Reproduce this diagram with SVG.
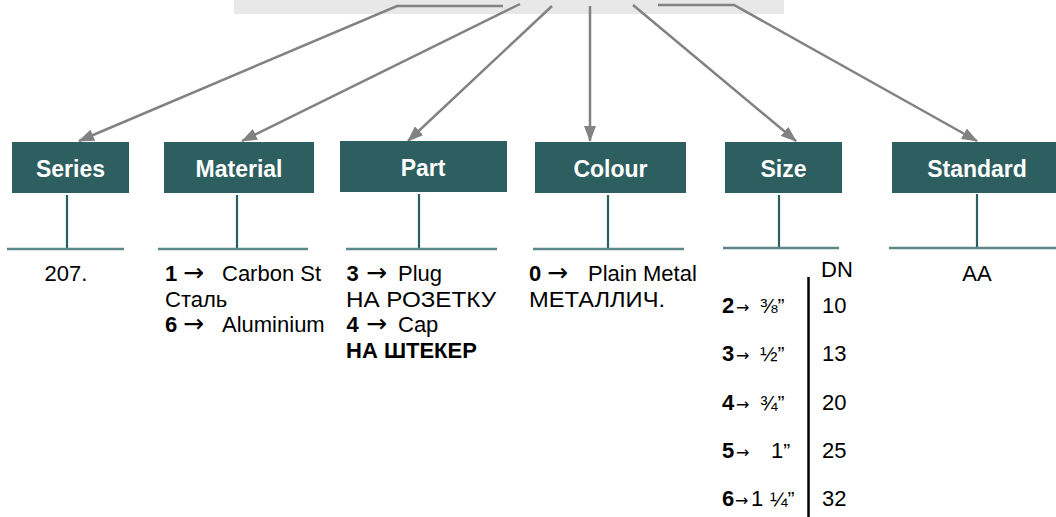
<svg xmlns="http://www.w3.org/2000/svg" width="1056" height="517" viewBox="0 0 1056 517">
<defs>
<style>
.box{fill:#2d5e60}
.lbl{font-family:"Liberation Sans",Arial,sans-serif;font-size:23px;font-weight:bold;fill:#fff;text-anchor:middle}
.t{font-family:"Liberation Sans",Arial,"DejaVu Sans",sans-serif;font-size:22px;fill:#000}
.b{font-weight:bold}
.ar{font-family:"DejaVu Sans",sans-serif;font-size:25px}
.sar{font-family:"DejaVu Sans",sans-serif;font-size:16px}
.fr{font-size:21px}
.stem{stroke:#2d5e60;stroke-width:2.2;fill:none}
.hl{stroke:#5b8788;stroke-width:2.5;fill:none}
.con{stroke:#828282;stroke-width:2.5;fill:none;marker-end:url(#ah)}
</style>
<marker id="ah" markerUnits="userSpaceOnUse" viewBox="0 0 16 12" markerWidth="16" markerHeight="12" refX="15" refY="6" orient="auto">
<path d="M0,0 L16,6 L0,12 z" fill="#828282"/>
</marker>
</defs>
<rect x="234" y="0" width="550" height="14" fill="#e8e8e8"/>
<g id="connectors">
<path class="con" d="M503,6 H397 L79,141"/>
<path class="con" d="M520,4 L242,141"/>
<path class="con" d="M552,6 L408,141"/>
<path class="con" d="M590,6 V141"/>
<path class="con" d="M633,5 L796,141"/>
<path class="con" d="M658,5 H734 L977,141"/>
</g>
<g id="series">
<rect class="box" x="12" y="142" width="117" height="51"/>
<text class="lbl" x="70.5" y="176.5">Series</text>
<line class="stem" x1="67" y1="195" x2="67" y2="248"/>
<line class="hl" x1="7" y1="249" x2="124" y2="249"/>
<text class="t" x="66" y="281" text-anchor="middle">207.</text>
</g>
<g id="material">
<rect class="box" x="164" y="142" width="150" height="51"/>
<text class="lbl" x="239" y="176.5">Material</text>
<line class="stem" x1="237" y1="195" x2="237" y2="248"/>
<line class="hl" x1="158" y1="249" x2="308" y2="249"/>
<text class="t" y="281"><tspan class="b" x="165">1</tspan><tspan class="ar" x="183">→</tspan><tspan x="222">Carbon St</tspan></text>
<text class="t" x="165" y="306.5">Сталь</text>
<text class="t" y="332"><tspan class="b" x="165">6</tspan><tspan class="ar" x="183">→</tspan><tspan x="222">Aluminium</tspan></text>
</g>
<g id="part">
<rect class="box" x="340" y="141" width="167" height="51"/>
<text class="lbl" x="423" y="175.5">Part</text>
<line class="stem" x1="419" y1="194" x2="419" y2="248"/>
<line class="hl" x1="346" y1="249" x2="497" y2="249"/>
<text class="t" y="281"><tspan class="b" x="346.5">3</tspan><tspan class="ar" x="366">→</tspan><tspan x="398">Plug</tspan></text>
<text class="t" x="346" y="306.5" textLength="150" lengthAdjust="spacingAndGlyphs">НА РОЗЕТКУ</text>
<text class="t" y="332"><tspan class="b" x="346.5">4</tspan><tspan class="ar" x="366">→</tspan><tspan x="398">Cap</tspan></text>
<text class="t b" x="346" y="357.5">НА ШТЕКЕР</text>
</g>
<g id="colour">
<rect class="box" x="535" y="142" width="151" height="51"/>
<text class="lbl" x="610.5" y="176.5">Colour</text>
<line class="stem" x1="608" y1="195" x2="608" y2="248"/>
<line class="hl" x1="533" y1="249" x2="684" y2="249"/>
<text class="t" y="281"><tspan class="b" x="529">0</tspan><tspan class="ar" x="547">→</tspan><tspan x="588">Plain Metal</tspan></text>
<text class="t" x="529" y="306.5" textLength="136" lengthAdjust="spacingAndGlyphs">МЕТАЛЛИЧ.</text>
</g>
<g id="size">
<rect class="box" x="725" y="142" width="117" height="51"/>
<text class="lbl" x="783.5" y="176.5">Size</text>
<line class="stem" x1="779" y1="195" x2="779" y2="247"/>
<line class="hl" x1="723" y1="248" x2="839" y2="248"/>
<text class="t" x="821" y="277">DN</text>
<line x1="808.5" y1="277" x2="808.5" y2="517" stroke="#000" stroke-width="2.5"/>
<text class="t" y="313"><tspan class="b" x="722">2</tspan><tspan class="sar" x="736">→</tspan><tspan class="fr" x="760">⅜”</tspan></text>
<text class="t" y="361"><tspan class="b" x="722">3</tspan><tspan class="sar" x="736">→</tspan><tspan class="fr" x="760">½”</tspan></text>
<text class="t" y="410"><tspan class="b" x="722">4</tspan><tspan class="sar" x="736">→</tspan><tspan class="fr" x="760">¾”</tspan></text>
<text class="t" y="458"><tspan class="b" x="722">5</tspan><tspan class="sar" x="736">→</tspan><tspan x="771">1</tspan><tspan class="fr">”</tspan></text>
<text class="t" y="506"><tspan class="b" x="722">6</tspan><tspan class="sar" x="735">→</tspan><tspan x="751">1</tspan><tspan class="fr" x="770">¼”</tspan></text>
<text class="t" x="822" y="313">10</text>
<text class="t" x="822" y="361">13</text>
<text class="t" x="822" y="410">20</text>
<text class="t" x="822" y="458">25</text>
<text class="t" x="822" y="506">32</text>
</g>
<g id="standard">
<rect class="box" x="892" y="142" width="170" height="51"/>
<text class="lbl" x="977" y="176.5">Standard</text>
<line class="stem" x1="977" y1="194" x2="977" y2="247"/>
<line class="hl" x1="889" y1="248" x2="1065" y2="248"/>
<text class="t" x="977" y="281" text-anchor="middle">AA</text>
</g>
</svg>
